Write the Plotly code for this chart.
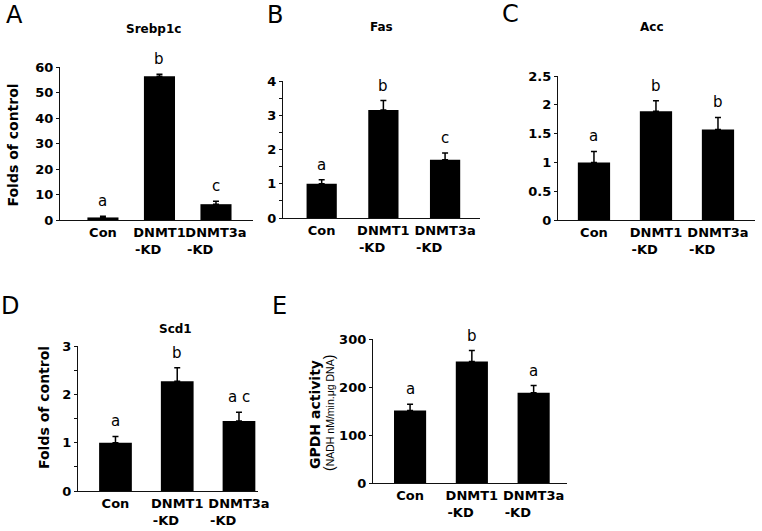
import plotly.graph_objects as go

W, H = 762, 531

categories = ["Con", "DNMT1-KD", "DNMT3a-KD"]
tick_labels = ["Con", "DNMT1<br>-KD\u00a0\u00a0\u00a0\u00a0\u00a0", "DNMT3a<br>-KD\u00a0\u00a0\u00a0\u00a0\u00a0\u00a0\u00a0"]

srebp1c_vals = [1.0, 56.4, 6.2]
srebp1c_err = [0.5, 0.8, 1.2]
srebp1c_sig = ["a", "b", "c"]

fas_vals = [1.0, 3.15, 1.70]
fas_err = [0.12, 0.28, 0.20]
fas_sig = ["a", "b", "c"]

acc_vals = [1.0, 1.89, 1.57]
acc_err = [0.19, 0.18, 0.21]
acc_sig = ["a", "b", "b"]

scd1_vals = [1.0, 2.27, 1.45]
scd1_err = [0.13, 0.28, 0.18]
scd1_sig = ["a", "b", "a c"]

gpdh_vals = [151, 253, 188]
gpdh_err = [13, 23, 15]
gpdh_sig = ["a", "b", "a"]

panels = [
    dict(key="", letter="A", title="Srebp1c", vals=srebp1c_vals, err=srebp1c_err, sig=srebp1c_sig,
         px=(60, 253, 67, 220), xr=[-0.76, 2.655], yr=[0, 60], dtick=10, minor=None, bw=0.55,
         letter_pos=(14, 15), title_pos=(153, 29)),
    dict(key="2", letter="B", title="Fas", vals=fas_vals, err=fas_err, sig=fas_sig,
         px=(283, 480, 81, 218), xr=[-0.627, 2.566], yr=[0, 4], dtick=1, minor=0.5, bw=0.49,
         letter_pos=(275, 15), title_pos=(381, 27)),
    dict(key="3", letter="C", title="Acc", vals=acc_vals, err=acc_err, sig=acc_sig,
         px=(558, 755, 76, 220), xr=[-0.58, 2.597], yr=[0, 2.5], dtick=0.5, minor=None, bw=0.52,
         letter_pos=(511, 14), title_pos=(652, 27)),
    dict(key="4", letter="D", title="Scd1", vals=scd1_vals, err=scd1_err, sig=scd1_sig,
         px=(78, 258, 346, 491), xr=[-0.607, 2.308], yr=[0, 3], dtick=1, minor=0.5, bw=0.53,
         letter_pos=(10, 306), title_pos=(175, 329)),
    dict(key="5", letter="E", title=None, vals=gpdh_vals, err=gpdh_err, sig=gpdh_sig,
         px=(373, 567, 339, 483), xr=[-0.6, 2.54], yr=[0, 300], dtick=100, minor=None, bw=0.52,
         letter_pos=(279, 306), title_pos=None),
]

BOLD = "DejaVu Sans"
fig = go.Figure()
annotations = []
layout = {}

for p in panels:
    k = p["key"]
    xl, xr_, yt, yb = p["px"]
    xref = "x" + k
    yref = "y" + k
    fig.add_trace(go.Bar(
        x=categories, y=p["vals"], width=p["bw"],
        marker=dict(color="black", line=dict(width=0)),
        error_y=dict(type="data", array=p["err"], arrayminus=[0] * 3, symmetric=False,
                     color="black", thickness=1.5, width=3),
        xaxis=xref, yaxis=yref, showlegend=False,
    ))
    layout["xaxis" + k] = dict(
        domain=[xl / W, xr_ / W], anchor=yref, type="category", automargin=False,
        range=p["xr"], showline=True, linecolor="#111", linewidth=1.3,
        ticks="", tickmode="array", tickvals=categories, ticktext=tick_labels, tickangle=0,
        tickfont=dict(family=BOLD, size=13, color="black", weight="bold"),
        ticklabelstandoff=0, showgrid=False, zeroline=False, fixedrange=True,
    )
    ydict = dict(
        domain=[1 - yb / H, 1 - yt / H], anchor=xref, range=p["yr"], automargin=False,
        showline=True, linecolor="#111", linewidth=1.3,
        ticks="outside", ticklen=3, tickcolor="#111", dtick=p["dtick"], tick0=0,
        tickfont=dict(family=BOLD, size=13, color="black", weight="bold"),
        showgrid=False, zeroline=False, fixedrange=True,
    )
    if p["minor"]:
        ydict["minor"] = dict(dtick=p["minor"], ticks="outside", ticklen=3, tickcolor="#111")
    layout["yaxis" + k] = ydict

    for c, v, e, s in zip(categories, p["vals"], p["err"], p["sig"]):
        annotations.append(dict(x=c, y=v + e, xref=xref, yref=yref, text=s, showarrow=False,
                                yanchor="bottom", yshift=4,
                                font=dict(family="DejaVu Sans", size=15, color="black")))
    lx, ly = p["letter_pos"]
    annotations.append(dict(x=lx / W, y=1 - ly / H, xref="paper", yref="paper", text=p["letter"],
                            showarrow=False, xanchor="center", yanchor="middle",
                            font=dict(family="DejaVu Sans", size=24, color="black")))
    if p["title"]:
        tx, ty = p["title_pos"]
        annotations.append(dict(x=tx / W, y=1 - ty / H, xref="paper", yref="paper", text=p["title"],
                                showarrow=False, xanchor="center", yanchor="middle",
                                font=dict(family=BOLD, size=12, color="black", weight="bold")))

for (x, y, txt, sz, wt) in [
    (12.5, 145, "Folds of control", 14, "bold"),
    (44, 408, "Folds of control", 14, "bold"),
    (315, 415, "GPDH activity", 14, "bold"),
]:
    annotations.append(dict(x=x / W, y=1 - y / H, xref="paper", yref="paper", text=txt,
                            textangle=-90, showarrow=False, xanchor="center", yanchor="middle",
                            font=dict(family=BOLD, size=sz, color="black", weight=wt)))
annotations.append(dict(x=329 / W, y=1 - 413 / H, xref="paper", yref="paper",
                        text="(<span style='font-size:10.5px'>NADH nM/min.\u03bcg DNA</span>)",
                        textangle=-90, showarrow=False, xanchor="center", yanchor="middle",
                        font=dict(family="Liberation Sans", size=14, color="black")))

fig.update_layout(
    width=W, height=H, margin=dict(l=0, r=0, t=0, b=0, autoexpand=False),
    paper_bgcolor="white", plot_bgcolor="white",
    annotations=annotations, showlegend=False, **layout,
)

fig.write_html(
    "out.html",
    config={"displayModeBar": False},
    post_script="document.body.style.margin='0px';document.body.style.padding='0px';"
                "document.body.style.overflow='hidden';",
)
